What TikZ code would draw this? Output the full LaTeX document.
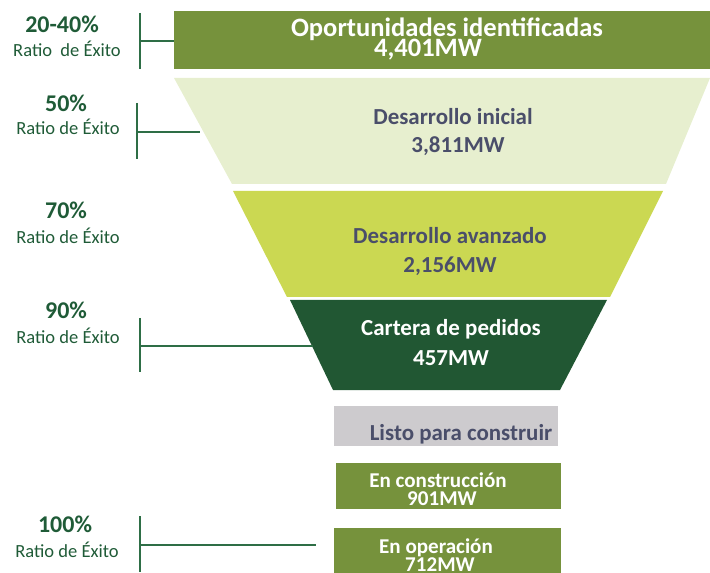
\documentclass[tikz,border=0pt]{standalone}
\usepackage{fontspec}
\setmainfont{Carlito}
\usepackage{tikz}

\definecolor{olivebox}{HTML}{76923C}
\definecolor{paleband}{HTML}{E7EFCF}
\definecolor{limeband}{HTML}{CBD852}
\definecolor{forestband}{HTML}{215733}
\definecolor{greybox}{HTML}{CDCBCE}
\definecolor{slatetext}{HTML}{4A4E6A}
\definecolor{ratiogreen}{HTML}{1F5B37}
\definecolor{leadgreen}{HTML}{2E6E46}

\tikzset{
  lbl/.style={inner sep=0pt, anchor=base},
  pct/.style={lbl, font=\fontsize{18}{20}\selectfont\bfseries, text=ratiogreen},
  ratio/.style={lbl, font=\fontsize{13.9}{16}\selectfont, text=ratiogreen},
  bigtxt/.style={lbl, font=\fontsize{19.9}{22}\selectfont\bfseries, text=white},
  midtxt/.style={lbl, font=\fontsize{17.2}{20}\selectfont\bfseries, text=slatetext},
  lowtxt/.style={lbl, font=\fontsize{15.8}{18}\selectfont\bfseries, text=white},
  lead/.style={draw=leadgreen, line width=0.9pt}
}

\begin{document}
\begin{tikzpicture}[x=0.75pt, y=-0.75pt]
\useasboundingbox (0,0) rectangle (710,573);

% funnel bands
\fill[olivebox] (174,11) rectangle (710,69);
\fill[paleband] (174,78) -- (710,78) -- (666,184) -- (232,184) -- cycle;
\fill[limeband] (233,191) -- (663,191) -- (610,297) -- (287,297) -- cycle;
\fill[forestband] (290,300) -- (607,300) -- (560,390) -- (333,390) -- cycle;
\fill[greybox] (334,406) rectangle (558,446);
\fill[olivebox] (336,463) rectangle (561,509);
\fill[olivebox] (334,528) rectangle (561,573);

% band texts
\node[bigtxt] (oport) at (447,37) {Oportunidades identificadas};
\node[bigtxt] (oportmw) at (428,57) {4,401MW};
\node[midtxt] (dini) at (453,125) {Desarrollo inicial};
\node[midtxt] (dinimw) at (458,153) {3,811MW};
\node[midtxt] (davz) at (450,244) {Desarrollo avanzado};
\node[midtxt] (davzmw) at (450,273) {2,156MW};
\node[midtxt, text=white] (cart) at (451,336) {Cartera de pedidos};
\node[midtxt, text=white] (cartmw) at (451,365) {457MW};
\node[midtxt] (listo) at (461,440) {Listo para construir};
\node[lowtxt] (cons) at (438,487) {En construcción};
\node[lowtxt] (consmw) at (442,505) {901MW};
\node[lowtxt] (oper) at (436,553) {En operación};
\node[lowtxt] (opermw) at (440,571) {712MW};

% success ratios
\node[pct] (p1) at (62,33) {20-40\%};
\node[ratio] (r1) at (67,57) {Ratio\ \ de Éxito};
\node[pct] (p2) at (66,112) {50\%};
\node[ratio] (r2) at (68,135) {Ratio de Éxito};
\node[pct] (p3) at (66,219) {70\%};
\node[ratio] (r3) at (68,244) {Ratio de Éxito};
\node[pct] (p4) at (66,319) {90\%};
\node[ratio] (r4) at (68,344) {Ratio de Éxito};
\node[pct] (p5) at (65,532) {100\%};
\node[ratio] (r5) at (67,557) {Ratio de Éxito};

% leader brackets
\coordinate (b1t) at (140,13); \coordinate (b1b) at (140,69);
\coordinate (b1m) at (140,41); \coordinate (b1e) at (174,41);
\coordinate (b2t) at (137,103); \coordinate (b2b) at (137,159);
\coordinate (b2m) at (137,132); \coordinate (b2e) at (200,132);
\coordinate (b4t) at (140,318); \coordinate (b4b) at (140,372);
\coordinate (b4m) at (140,346); \coordinate (b4e) at (313,346);
\coordinate (b5t) at (140,516); \coordinate (b5b) at (140,572);
\coordinate (b5m) at (140,545); \coordinate (b5e) at (316,545);
\draw[lead] (b1t) -- (b1b) (b1m) -- (b1e);
\draw[lead] (b2t) -- (b2b) (b2m) -- (b2e);
\draw[lead] (b4t) -- (b4b) (b4m) -- (b4e);
\draw[lead] (b5t) -- (b5b) (b5m) -- (b5e);
\end{tikzpicture}
\end{document}
